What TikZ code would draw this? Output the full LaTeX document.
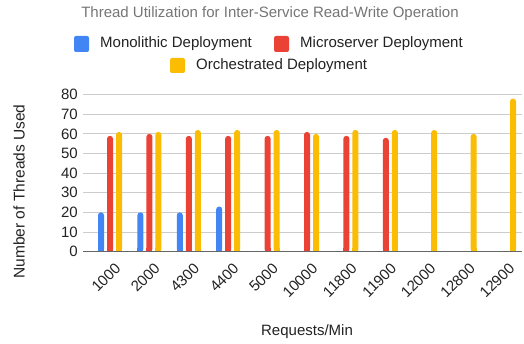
\documentclass[tikz,border=0pt]{standalone}
\usepackage{fontspec}
\setmainfont{Liberation Sans}
\definecolor{gblue}{HTML}{4285F4}
\definecolor{gred}{HTML}{EA4335}
\definecolor{gyellow}{HTML}{FBBC04}
\definecolor{gtitle}{HTML}{757575}
\definecolor{gtext}{HTML}{222222}
\definecolor{ggrid}{HTML}{CCCCCC}
\definecolor{gaxis}{HTML}{666666}
\begin{document}
\begin{tikzpicture}[x=1pt,y=1pt,
  lab/.style={font=\fontsize{15}{17}\selectfont, text=gtext, inner sep=0pt},
  legbox/.style={rounded corners=2pt},
  grid line/.style={draw=ggrid, line width=1pt},
  axis line/.style={draw=gaxis, line width=1.3pt}]
\useasboundingbox (0,0) rectangle (524,343);
\def\yz{91.3}
\def\yu{1.9625}
% title
\node[font=\fontsize{15}{17}\selectfont, text=gtitle, inner sep=0pt] (title) at (270,329) {Thread Utilization for Inter-Service Read-Write Operation};
% legend
\fill[gblue, legbox] (74,291) rectangle (89,307);
\node[lab, anchor=west] (lmono) at (100,299) {Monolithic Deployment};
\fill[gred, legbox] (274,291) rectangle (289,307);
\node[lab, anchor=west] (lmicro) at (300,299) {Microserver Deployment};
\fill[gyellow, legbox] (170,270) rectangle (185,285);
\node[lab, anchor=west] (lorch) at (196,277.5) {Orchestrated Deployment};
% grid
\foreach \v in {10,20,...,80} {
  \draw[grid line] (83.3,{\yz+\v*\yu}) -- (522,{\yz+\v*\yu});
}
\foreach \v in {0,10,...,80} {
  \node[lab, anchor=east] at (78,{\yz+\v*\yu}) {\v};
}
% bars
\newcommand{\mybar}[3]{%
  \fill[#1, rounded corners=2.8pt] ({#2-3},\yz) rectangle ({#2+3},{\yz+#3*\yu});
  \fill[#1] ({#2-3},\yz) rectangle ({#2+3},{\yz+4});
}
\foreach \i/\b/\r/\yv in {0/20/59/61, 1/20/60/61, 2/20/59/62, 3/23/59/62, 4/0/59/62, 5/0/61/60, 6/0/59/62, 7/0/58/62, 8/0/0/62, 9/0/0/60, 10/0/0/78} {
  \pgfmathsetmacro{\cx}{110+39.4*\i}
  \ifnum\b>0 \mybar{gblue}{\cx-9}{\b}\fi
  \ifnum\r>0 \mybar{gred}{\cx}{\r}\fi
  \ifnum\yv>0 \mybar{gyellow}{\cx+9}{\yv}\fi
}
\draw[axis line] (83.3,\yz) -- (522,\yz);
% x tick labels
\foreach \i/\t in {0/1000,1/2000,2/4300,3/4400,4/5000,5/10000,6/11800,7/11900,8/12000,9/12800,10/12900} {
  \pgfmathsetmacro{\cx}{110+39.4*\i}
  \node[lab, rotate=45, anchor=north east] at (\cx+4,\yz-10) {\t};
}
% axis titles
\node[lab] (xlab) at (307,11) {Requests/Min};
\node[lab, rotate=90, font=\fontsize{15.5}{17}\selectfont] (ylab) at (19,151.5) {Number of Threads Used};
\end{tikzpicture}
\end{document}
